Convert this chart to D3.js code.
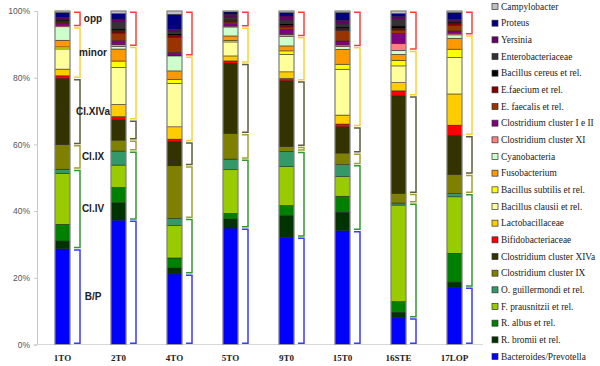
<!DOCTYPE html>
<html>
<head>
<meta charset="utf-8">
<script src="https://cdn.jsdelivr.net/npm/d3@7"></script>
<style>
  body { margin: 0; background: #fff; }
  svg { display: block; }
</style>
</head>
<body>
<div id="chart"></div>
<script>
// samples on the x axis
const categories = ["1TO", "2T0", "4TO", "5TO", "9T0", "15T0", "16STE", "17LOP"];

// percentages per sample, bottom of the stack first
const bacteroides   = [28.5, 37.3, 21.2, 35.0, 32.3, 34.3, 8.0, 17.3];
const rBromii       = [2.3, 5.2, 1.8, 2.7, 6.5, 5.5, 1.7, 1.5];
const rAlbus        = [5.0, 4.6, 3.0, 1.7, 3.0, 4.8, 3.2, 8.7];
const fPrausnitzii  = [15.2, 6.7, 9.7, 13.1, 11.8, 5.9, 29.0, 17.0];
const oGuillermondi = [1.2, 4.2, 2.2, 3.2, 4.5, 3.6, 0.6, 1.0];
const clIX          = [7.3, 3.3, 15.8, 7.7, 1.5, 3.5, 2.9, 5.8];
const clXIVa        = [19.7, 6.0, 7.2, 21.1, 19.7, 7.9, 29.3, 11.7];
const bifido        = [0.8, 1.0, 0.8, 0.7, 0.7, 0.8, 1.5, 3.1];
const lacto         = [2.0, 3.7, 3.7, 1.5, 2.0, 2.7, 2.5, 9.4];
const bClausii      = [6.0, 11.1, 13.1, 4.2, 5.3, 13.8, 5.0, 11.0];
const bSubtilis     = [0.6, 1.9, 1.2, 0.5, 1.0, 1.5, 1.7, 2.5];
const fuso          = [2.0, 3.6, 2.5, 1.3, 1.5, 4.5, 1.8, 3.3];
const cyano         = [4.0, 0.8, 4.5, 2.7, 2.8, 0.8, 1.2, 1.0];
const clXI          = [0.4, 0.5, 0.2, 0.3, 0.7, 0.5, 2.1, 0.5];
const clIandII      = [0.7, 1.2, 0.8, 0.7, 1.5, 1.2, 3.0, 0.7];
const eFaecalis     = [0.2, 2.3, 4.5, 0.5, 0.7, 3.2, 1.0, 1.6];
const eFaecium      = [0.4, 0.7, 0.7, 0.5, 0.5, 0.5, 0.5, 0.8];
const bCereus       = [0.3, 0.5, 0.5, 0.3, 0.5, 0.5, 0.7, 0.3];
const entero        = [0.3, 2.0, 0.8, 0.7, 1.0, 0.8, 2.0, 0.3];
const yersinia      = [0.5, 1.0, 0.5, 0.8, 1.3, 1.2, 0.8, 0.5];
const proteus       = [1.4, 1.6, 4.5, 0.7, 1.0, 2.3, 0.9, 2.0];
const campylobacter = [0.5, 0.8, 1.0, 0.3, 0.5, 0.5, 0.8, 0.5];

const seriesNames = [
  "Bacteroides/Prevotella", "R. bromii et rel.", "R. albus et rel.", "F. prausnitzii et rel.",
  "O. guillermondi et rel.", "Clostridium cluster IX", "Clostridium cluster XIVa",
  "Bifidobacteriaceae", "Lactobacillaceae", "Bacillus clausii et rel.", "Bacillus subtilis et rel.",
  "Fusobacterium", "Cyanobacteria", "Clostridium cluster XI", "Clostridium cluster I e II",
  "E. faecalis et rel.", "E.faecium et rel.", "Bacillus cereus et rel.", "Enterobacteriaceae",
  "Yersinia", "Proteus", "Campylobacter"
];
const seriesValues = [
  bacteroides, rBromii, rAlbus, fPrausnitzii, oGuillermondi, clIX, clXIVa,
  bifido, lacto, bClausii, bSubtilis, fuso, cyano, clXI, clIandII,
  eFaecalis, eFaecium, bCereus, entero, yersinia, proteus, campylobacter
];
const seriesColors = [
  "#0000ff", "#003300", "#008000", "#99cc00", "#339966", "#808000", "#333300",
  "#ff0000", "#ffcc00", "#ffff99", "#ffff00", "#ff9900", "#ccffcc", "#ff8080", "#800080",
  "#993300", "#800000", "#000000", "#333333", "#660066", "#000080", "#c0c0c0"
];

// bracket groups: label, first and last series index
const groupLabels = ["B/P", "Cl.IV", "Cl.IX", "Cl.XIVa", "minor", "opp"];
const groupFrom   = [0, 1, 5, 6, 7, 13];
const groupTo     = [0, 4, 5, 6, 12, 21];
const groupColors = ["#3a3aff", "#2f9a2f", "#a0a030", "#5c5c40", "#ffd030", "#ff3c3c"];

const w = 600, h = 366;
const serif = "'Liberation Serif', 'Times New Roman', serif";
const sans = "'Liberation Sans', Arial, sans-serif";

const svg = d3.select("#chart").append("svg")
  .attr("width", w)
  .attr("height", h);

// table for d3.stack
const rows = categories.map((c, i) => {
  const r = { cat: c };
  seriesNames.forEach((s, j) => { r[s] = seriesValues[j][i]; });
  return r;
});
const stacked = d3.stack()
  .keys(seriesNames)
  .offset(d3.stackOffsetExpand)(rows);

const x = d3.scaleBand()
  .domain(categories)
  .range([34.5, 482.5])
  .paddingInner(0.732)
  .paddingOuter(0.366);
const y = d3.scaleLinear()
  .domain([0, 1])
  .range([344.5, 11]);

// y axis
const yAxis = svg.append("g")
  .attr("transform", "translate(37,0)")
  .call(d3.axisLeft(y).tickValues([0, 0.2, 0.4, 0.6, 0.8, 1]).tickFormat(d3.format(".0%")).tickSize(3).tickPadding(4));
yAxis.select(".domain").attr("stroke", "#c8c8c8");
yAxis.selectAll(".tick line").attr("stroke", "#c8c8c8");
yAxis.selectAll("text")
  .style("font-family", sans)
  .style("font-size", "8.5px")
  .attr("fill", "#555");

// x axis
const xAxis = svg.append("g")
  .attr("transform", `translate(0,${y(0)})`)
  .call(d3.axisBottom(x).tickSize(0).tickPadding(10));
xAxis.select(".domain").attr("stroke", "#d8d8d8").attr("d", `M37,0H483`);
xAxis.selectAll("text")
  .style("font-family", serif)
  .style("font-size", "9px")
  .style("font-weight", "bold")
  .attr("fill", "#222");

// stacked segments
svg.append("g")
  .selectAll("g")
  .data(stacked)
  .join("g")
    .attr("fill", (d, i) => seriesColors[i])
  .selectAll("rect")
  .data(d => d)
  .join("rect")
    .attr("x", d => x(d.data.cat))
    .attr("y", d => y(d[1]))
    .attr("width", x.bandwidth())
    .attr("height", d => y(d[0]) - y(d[1]))
    .attr("stroke", "#222")
    .attr("stroke-width", 0.5);

// grey outline of each bar
svg.append("g")
  .selectAll("rect")
  .data(categories)
  .join("rect")
    .attr("x", d => x(d))
    .attr("y", y(1))
    .attr("width", x.bandwidth())
    .attr("height", y(0) - y(1))
    .attr("fill", "none")
    .attr("stroke", "#999")
    .attr("stroke-width", 1);

// brackets beside each bar
const brackets = [];
categories.forEach((c, i) => {
  groupLabels.forEach((g, k) => {
    brackets.push({
      cat: c, i: i, k: k,
      lo: stacked[groupFrom[k]][i][0],
      hi: stacked[groupTo[k]][i][1]
    });
  });
});
svg.append("g")
  .selectAll("path")
  .data(brackets)
  .join("path")
    .attr("fill", "none")
    .attr("stroke", d => groupColors[d.k])
    .attr("stroke-width", 1.5)
    .attr("d", d => {
      const x0 = x(d.cat) + x.bandwidth() + 4;
      const x1 = x0 + 6;
      const yt = y(d.hi) + 1.2, yb = y(d.lo) - 1.2;
      return `M${x0},${yt}H${x1}V${yb}H${x0}`;
    });

// group labels next to the first bar
svg.append("g")
  .selectAll("text")
  .data(brackets.filter(d => d.i === 0))
  .join("text")
    .attr("x", 93)
    .attr("y", d => (y(d.lo) + y(d.hi)) / 2)
    .attr("text-anchor", "middle")
    .attr("dominant-baseline", "central")
    .style("font-family", sans)
    .style("font-size", "10px")
    .style("font-weight", "bold")
    .attr("fill", "#222")
    .text(d => groupLabels[d.k]);

// legend, top entry is the last series
const legendOrder = seriesNames.slice().reverse();
const ly = d3.scalePoint().domain(legendOrder).range([6.5, 356.5]);
const legend = svg.append("g")
  .selectAll("g")
  .data(legendOrder)
  .join("g")
    .attr("transform", d => `translate(492,${ly(d)})`);
legend.append("rect")
  .attr("x", 0)
  .attr("y", -3)
  .attr("width", 6)
  .attr("height", 6)
  .attr("fill", d => seriesColors[seriesNames.indexOf(d)])
  .attr("stroke", "#333")
  .attr("stroke-width", 0.7);
legend.append("text")
  .attr("x", 9)
  .attr("y", 0)
  .attr("dominant-baseline", "central")
  .style("font-family", serif)
  .style("font-size", "9.4px")
  .attr("fill", "#222")
  .text(d => d);
</script>
</body>
</html>
